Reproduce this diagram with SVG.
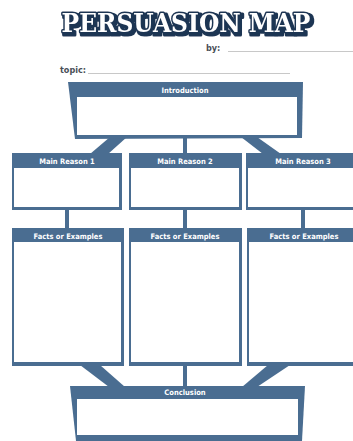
<svg xmlns="http://www.w3.org/2000/svg" width="353" height="441" viewBox="0 0 353 441">
<style>
.fr{fill:#4a6d91}
.in{fill:#ffffff}
.hd{font-family:"DejaVu Sans Condensed","DejaVu Sans",sans-serif;font-weight:bold;font-size:7.5px;fill:#ffffff;text-anchor:middle}
.lb{font-family:"DejaVu Sans Condensed","DejaVu Sans",sans-serif;font-weight:bold;font-size:9px;fill:#4a4f57}
.ln{stroke:#c8c8c8;stroke-width:1}
.tt{font-family:"DejaVu Serif Condensed","DejaVu Serif",serif;font-weight:bold;font-size:26px;text-anchor:middle;paint-order:stroke;stroke-linejoin:round}
</style>
<defs>
<filter id="sh" filterUnits="userSpaceOnUse" x="30" y="0" width="310" height="45">
<feMorphology in="SourceAlpha" operator="dilate" radius="1" result="d"/>
<feOffset in="d" dx="2" dy="2" result="o"/>
<feFlood flood-color="#1f3553"/>
<feComposite in2="o" operator="in" result="s"/>
<feMerge><feMergeNode in="s"/><feMergeNode in="SourceGraphic"/></feMerge>
</filter>
</defs>
<rect x="0" y="0" width="353" height="441" fill="#ffffff"/>
<g id="title">
<text class="tt" x="186" y="32" fill="#ffffff" stroke="#1f3553" stroke-width="3" filter="url(#sh)">PERSUASION MAP</text>
</g>
<g id="by">
<text class="lb" x="206" y="51">by:</text>
<line class="ln" x1="228" y1="51.5" x2="353" y2="51.5"/>
</g>
<g id="topic">
<text class="lb" x="60" y="73">topic:</text>
<line class="ln" x1="88" y1="73.5" x2="290" y2="73.5"/>
</g>
<g id="connectors" class="fr">
<polygon points="110,137 127,137 108,154 90,154"/>
<rect x="183" y="137" width="4" height="17"/>
<polygon points="241,137 257,137 281,154 263,154"/>
<rect x="65" y="209" width="4" height="20"/>
<rect x="183" y="209" width="4" height="20"/>
<rect x="301" y="209" width="4" height="20"/>
<polygon points="80,365 100,365 125,387 109,387"/>
<rect x="183" y="365" width="4" height="22"/>
<polygon points="268,365 290,365 257,387 242,387"/>
</g>
<g id="introduction">
<polygon class="fr" points="68,82 303,82 302,138 75,139"/>
<rect class="in" x="77" y="97" width="220" height="38"/>
<text class="hd" x="185" y="93">Introduction</text>
</g>
<g id="reason1">
<rect class="fr" x="12" y="153" width="110" height="57"/>
<rect class="in" x="14" y="168" width="105" height="39"/>
<text class="hd" x="67" y="164">Main Reason 1</text>
</g>
<g id="reason2">
<rect class="fr" x="129" y="153" width="113" height="57"/>
<rect class="in" x="131" y="168" width="108" height="39"/>
<text class="hd" x="185" y="164">Main Reason 2</text>
</g>
<g id="reason3">
<rect class="fr" x="246" y="153" width="110" height="57"/>
<rect class="in" x="248" y="168" width="108" height="39"/>
<text class="hd" x="303" y="164">Main Reason 3</text>
</g>
<g id="facts1">
<rect class="fr" x="12" y="228" width="112" height="138"/>
<rect class="in" x="14" y="242" width="107" height="120"/>
<text class="hd" x="68" y="239">Facts or Examples</text>
</g>
<g id="facts2">
<rect class="fr" x="129" y="228" width="113" height="138"/>
<rect class="in" x="131" y="242" width="108" height="120"/>
<text class="hd" x="185" y="239">Facts or Examples</text>
</g>
<g id="facts3">
<rect class="fr" x="247" y="228" width="109" height="138"/>
<rect class="in" x="249" y="242" width="107" height="120"/>
<text class="hd" x="304" y="239">Facts or Examples</text>
</g>
<g id="conclusion">
<polygon class="fr" points="70,386 305,386 302,441 76,441"/>
<rect class="in" x="77" y="399" width="221" height="36"/>
<text class="hd" x="185" y="395">Conclusion</text>
</g>
</svg>
